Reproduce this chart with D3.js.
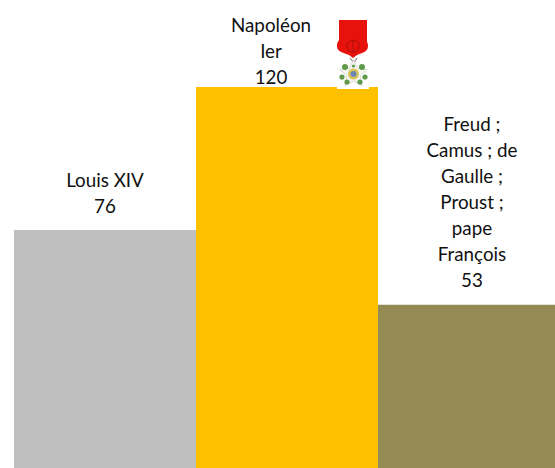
<!DOCTYPE html>
<html><head><meta charset="utf-8">
<style>html,body{margin:0;padding:0;background:#fff;overflow:hidden}svg{display:block}text{font-family:Lato,"Open Sans",sans-serif;font-size:18.8px;fill:#111;text-anchor:middle}</style>
<script src="https://cdn.jsdelivr.net/npm/d3@7/dist/d3.min.js"></script>
</head><body><div id="c"></div>
<script>
const categories = ["Louis XIV","Napoléon Ier","Freud ; Camus ; de Gaulle ; Proust ; pape François"];
const values = [76,120,53];
const colors = ["#bfbfbf","#ffc000","#948a54"];
const labelLines = [["Louis XIV"],["Napoléon","Ier"],["Freud ;","Camus ; de","Gaulle ;","Proust ;","pape","François"]];
const labelShift = [0,-16,3];
const labelGap = [17,3,18];

const W=555,H=468;
const svg=d3.select("#c").append("svg").attr("width",W).attr("height",H);
const x=d3.scaleBand().domain(categories).range([14,560]);
const y=d3.scaleLinear().domain([0,120]).range([477,87]);
svg.selectAll("rect.bar").data(categories).join("rect").attr("class","bar")
  .attr("x",d=>x(d)).attr("width",x.bandwidth())
  .attr("y",(d,i)=>y(values[i])).attr("height",(d,i)=>y(0)-y(values[i]))
  .attr("fill",(d,i)=>colors[i]);
categories.forEach((c,i)=>{
  const lines=[...labelLines[i],String(values[i])];
  const cx=x(c)+x.bandwidth()/2+labelShift[i];
  const last=y(values[i])-labelGap[i];
  lines.forEach((t,j)=>svg.append("text").attr("x",cx).attr("y",last-(lines.length-1-j)*26).text(t));
});
// medal
const m=svg.append("g");
m.append("rect").attr("x",337).attr("y",56).attr("width",32).attr("height",33).attr("fill","#fff");
m.append("rect").attr("x",339).attr("y",20).attr("width",28).attr("height",22).attr("fill","#e8120c");
m.append("path").attr("d","M345 38C339 38 337 42 337 46C337 52 344 53 349 55L353 58L357 55C362 53 368 52 368 46C368 42 366 38 360 38Z").attr("fill","#e8120c");
m.append("circle").attr("cx",353).attr("cy",46).attr("r",6).attr("fill","none").attr("stroke","#8f0f0a").attr("stroke-width",.7);
m.append("line").attr("x1",353).attr("x2",353).attr("y1",40).attr("y2",52).attr("stroke","#8f0f0a").attr("stroke-width",.7);
m.append("path").attr("d","M350 58L354 63L357 58").attr("fill","none").attr("stroke","#8a8a8a").attr("stroke-width",1.2);
const star=d3.range(10).map(i=>{const a=-Math.PI/2+i*Math.PI/5,r=i%2?7:14.5;return [353.5+r*Math.cos(a),74+r*Math.sin(a)];});
m.append("polygon").attr("points",star.map(p=>p.join(",")).join(" ")).attr("fill","#f6f6f0").attr("stroke","#b9b9b0").attr("stroke-width",.5);
[[345,67,3],[362,67,3],[342,77,2.6],[365,77,2.6],[347,82,2.6],[360,82,2.6],[353.5,66,1.6]].forEach(p=>m.append("circle").attr("cx",p[0]).attr("cy",p[1]).attr("r",p[2]).attr("fill","#5f9a4a"));
m.append("circle").attr("cx",353.5).attr("cy",74).attr("r",5.5).attr("fill","#d9c45a");
m.append("circle").attr("cx",353.5).attr("cy",74).attr("r",3).attr("fill","#6f86b8");
</script></body></html>
